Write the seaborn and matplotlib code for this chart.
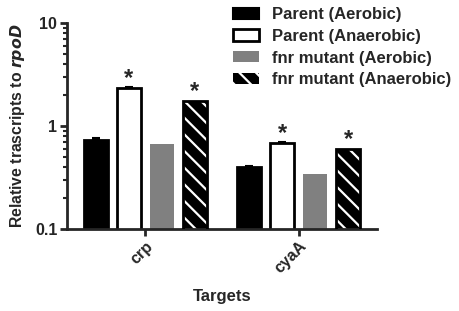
import numpy as np
import pandas as pd
import seaborn as sns
import matplotlib.pyplot as plt
from matplotlib.patches import Patch, Rectangle

# values (relative transcripts to rpoD)
targets = ['crp', 'cyaA']
conditions = ['Parent (Aerobic)', 'Parent (Anaerobic)', 'fnr mutant (Aerobic)', 'fnr mutant (Anaerobic)']
crp_vals = [0.73, 2.34, 0.67, 1.75]
cyaA_vals = [0.40, 0.68, 0.34, 0.60]
crp_err = [0.03, 0.05, 0.0, 0.0]
cyaA_err = [0.01, 0.02, 0.0, 0.0]
significant = [False, True, False, True]

colors = ['black', 'white', '#808080', 'black']

df = pd.DataFrame({
    'target': np.repeat(targets, len(conditions)),
    'condition': conditions * len(targets),
    'value': crp_vals + cyaA_vals,
    'err': crp_err + cyaA_err,
})

sns.set_style('ticks')
plt.rcParams['font.family'] = ['Liberation Sans', 'DejaVu Sans']
plt.rcParams['font.weight'] = 'bold'
plt.rcParams['hatch.linewidth'] = 1.6

fig = plt.figure(figsize=(4.59, 3.11), dpi=100)
ax = fig.add_axes([0.146, 0.264, 0.675, 0.662])
ax.set_yscale('log')

sns.barplot(data=df, x='target', y='value', hue='condition', hue_order=conditions,
            palette=colors, errorbar=None, width=0.86, gap=0.27, ax=ax,
            edgecolor='black', linewidth=2, legend=False)

bar_groups = list(ax.containers)
for i, cont in enumerate(bar_groups):
    sub = df[df['condition'] == conditions[i]]
    xs, ys = [], []
    for bar in cont:
        xs.append(bar.get_x() + bar.get_width() / 2)
        ys.append(bar.get_height())
        if i == 2:
            bar.set_edgecolor('#808080')
            bar.set_linewidth(0)
        if i == 3:
            bar.set_edgecolor('white')
            bar.set_hatch('\\\\')
            bar.set_linewidth(0)
            ax.add_patch(Rectangle((bar.get_x(), 0.05), bar.get_width(), bar.get_height() - 0.05,
                                   fill=False, edgecolor='black', linewidth=2, zorder=3))
    errs = sub['err'].values
    if errs.max() > 0:
        ax.errorbar(xs, ys, yerr=[np.zeros_like(errs), errs], fmt='none', ecolor='black',
                    elinewidth=1.5, capsize=3, capthick=1.5, zorder=1)
    if significant[i]:
        for x, y in zip(xs, ys):
            ax.annotate('*', (x, y), xytext=(0, 7), textcoords='offset points',
                        ha='center', va='center', fontsize=17)

ax.set_ylim(0.1, 10)
ax.set_xlim(-0.51, 1.51)
ax.set_yticks([0.1, 1, 10])
ax.set_yticklabels(['0.1', '1', '10'], fontsize=11.5, fontweight='bold')
ax.set_xticks([0, 1])
ax.set_xticklabels(targets, rotation=45, ha='right', rotation_mode='anchor',
                   fontsize=11.5, fontweight='bold')
ax.set_ylabel('Relative trascripts to $\\mathbfit{rpoD}$', fontsize=11.3, fontweight='bold')
ax.yaxis.set_label_coords(-0.13, 0.5)
ax.set_xlabel('Targets', fontsize=12, fontweight='bold')
ax.xaxis.label.set_va('center')
ax.xaxis.set_label_coords(0.5, -0.33)
ax.tick_params(axis='both', which='major', length=5, width=2, pad=2)
ax.tick_params(axis='y', which='minor', length=3, width=1.5)
ax.tick_params(axis='x', which='minor', length=0)
sns.despine(ax=ax)
for s in ['left', 'bottom']:
    ax.spines[s].set_linewidth(2)

handles = [
    Patch(facecolor='black', edgecolor='black', linewidth=1.5),
    Patch(facecolor='white', edgecolor='black', linewidth=2),
    Patch(facecolor='#808080', edgecolor='#808080', linewidth=0),
    Patch(facecolor='black', edgecolor='white', hatch='\\\\', linewidth=0),
]
fig.legend(handles, conditions, loc='upper left', bbox_to_anchor=(0.476, 1.025),
           frameon=False, handlelength=1.55, handleheight=0.65,
           handletextpad=0.75, labelspacing=0.4, prop={'weight': 'bold', 'size': 12})

fig.savefig('out.png', dpi=100)
